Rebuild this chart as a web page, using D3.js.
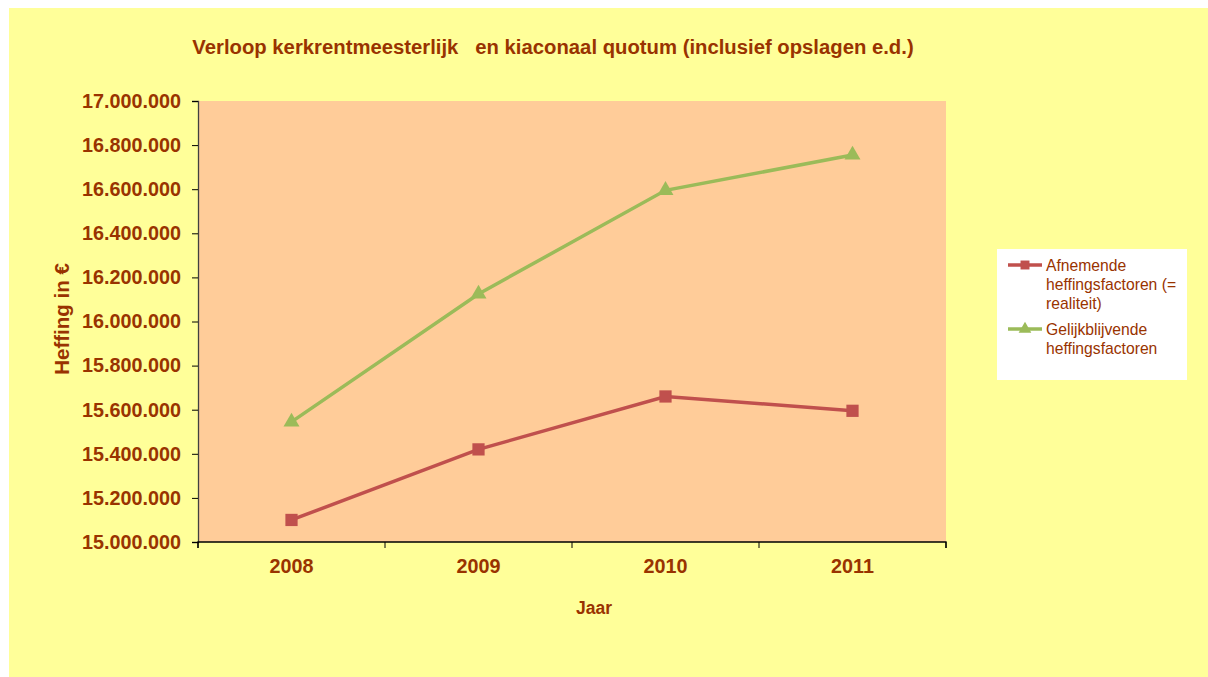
<!DOCTYPE html>
<html><head><meta charset="utf-8">
<script src="https://cdn.jsdelivr.net/npm/d3@7"></script>
<style>html,body{margin:0;padding:0;background:#fff;}svg{display:block;}</style>
</head><body>
<svg id="chart" width="1208" height="677"></svg>
<script>
const categories = ["2008", "2009", "2010", "2011"];
const afnemende = [15100000, 15420000, 15660000, 15595000];
const gelijkblijvend = [15545000, 16125000, 16595000, 16755000];
const yTicks = [15000000, 15200000, 15400000, 15600000, 15800000, 16000000, 16200000, 16400000, 16600000, 16800000, 17000000];
const seriesNames = [["Afnemende", "heffingsfactoren (=", "realiteit)"], ["Gelijkblijvende", "heffingsfactoren"]];

const txt = "#993300";
const font = "'Liberation Sans', Arial, sans-serif";
const svg = d3.select("#chart");
svg.append("rect").attr("x", 9).attr("y", 8).attr("width", 1199).attr("height", 669).attr("fill", "#FFFF99");

const m = {l: 198, t: 101, r: 946, b: 542};
const x = d3.scaleBand().domain(categories).range([m.l, m.r]);
const y = d3.scaleLinear().domain([15000000, 17000000]).range([m.b, m.t]);

svg.append("rect").attr("x", m.l).attr("y", m.t).attr("width", m.r - m.l).attr("height", m.b - m.t).attr("fill", "#FFCC99");

const fmt = v => d3.format(",")(v).replace(/,/g, ".");

// y axis
const ya = svg.append("g").attr("transform", `translate(${m.l},0)`)
  .call(d3.axisLeft(y).tickValues(yTicks).tickFormat(fmt).tickSize(6).tickPadding(11));
ya.select(".domain").attr("stroke", "#404040").attr("stroke-width", 1.3);
ya.selectAll(".tick line").attr("stroke", "#000");
ya.selectAll("text").attr("fill", txt).attr("font-family", font).attr("font-weight", "bold").attr("font-size", 19.8);

// x axis
const xa = svg.append("g").attr("transform", `translate(0,${m.b})`)
  .call(d3.axisBottom(x).tickSize(0).tickPadding(17));
xa.select(".domain").attr("stroke", "#000").attr("stroke-width", 1.3).attr("d", `M${m.l},6V0H${m.r}V6`);
xa.selectAll("text").attr("fill", txt).attr("font-family", font).attr("font-weight", "bold").attr("font-size", 19.8);
const bounds = categories.map(c => x(c)).concat([m.r]);
xa.selectAll(".bt").data(bounds).enter().append("line")
  .attr("x1", d => d).attr("x2", d => d).attr("y1", 0).attr("y2", 6).attr("stroke", "#000");

const cx = c => x(c) + x.bandwidth() / 2;
const line = d3.line().x((d, i) => cx(categories[i])).y(d => y(d));

const series = [
  {vals: afnemende, color: "#C0504D", sym: d3.symbolSquare, size: 150},
  {vals: gelijkblijvend, color: "#9BBB59", sym: d3.symbolTriangle, size: 110}
];
series.forEach(s => {
  svg.append("path").datum(s.vals).attr("d", line).attr("fill", "none").attr("stroke", s.color).attr("stroke-width", 3.5);
  svg.selectAll(null).data(s.vals).enter().append("path")
    .attr("d", d3.symbol().type(s.sym).size(s.size))
    .attr("transform", (d, i) => `translate(${cx(categories[i])},${y(d)})`)
    .attr("fill", s.color);
});

// titles
svg.append("text").attr("x", 553).attr("y", 54).attr("text-anchor", "middle").attr("fill", txt)
  .attr("font-family", font).attr("font-weight", "bold").attr("font-size", 20.3)
  .attr("xml:space", "preserve")
  .text("Verloop kerkrentmeesterlijk   en kiaconaal quotum (inclusief opslagen e.d.)");
svg.append("text").attr("transform", "translate(69,319) rotate(-90)").attr("text-anchor", "middle").attr("fill", txt)
  .attr("font-family", font).attr("font-weight", "bold").attr("font-size", 20.5).text("Heffing in €");
svg.append("text").attr("x", 594).attr("y", 614).attr("text-anchor", "middle").attr("fill", txt)
  .attr("font-family", font).attr("font-weight", "bold").attr("font-size", 17.5).text("Jaar");

// legend
const lg = svg.append("g");
lg.append("rect").attr("x", 997).attr("y", 249).attr("width", 190).attr("height", 131).attr("fill", "#fff");
const legY = [265, 329];
series.forEach((s, i) => {
  const ly = legY[i];
  lg.append("line").attr("x1", 1008).attr("x2", 1042).attr("y1", ly).attr("y2", ly).attr("stroke", s.color).attr("stroke-width", 3.5);
  lg.append("path").attr("d", d3.symbol().type(s.sym).size(i === 0 ? 80 : 70)).attr("transform", `translate(1025,${ly})`).attr("fill", s.color);
  seriesNames[i].forEach((t, j) => {
    lg.append("text").attr("x", 1046).attr("y", ly + 6 + j * 19).attr("fill", txt)
      .attr("font-family", font).attr("font-size", 15.7).text(t);
  });
});
</script>
</body></html>
